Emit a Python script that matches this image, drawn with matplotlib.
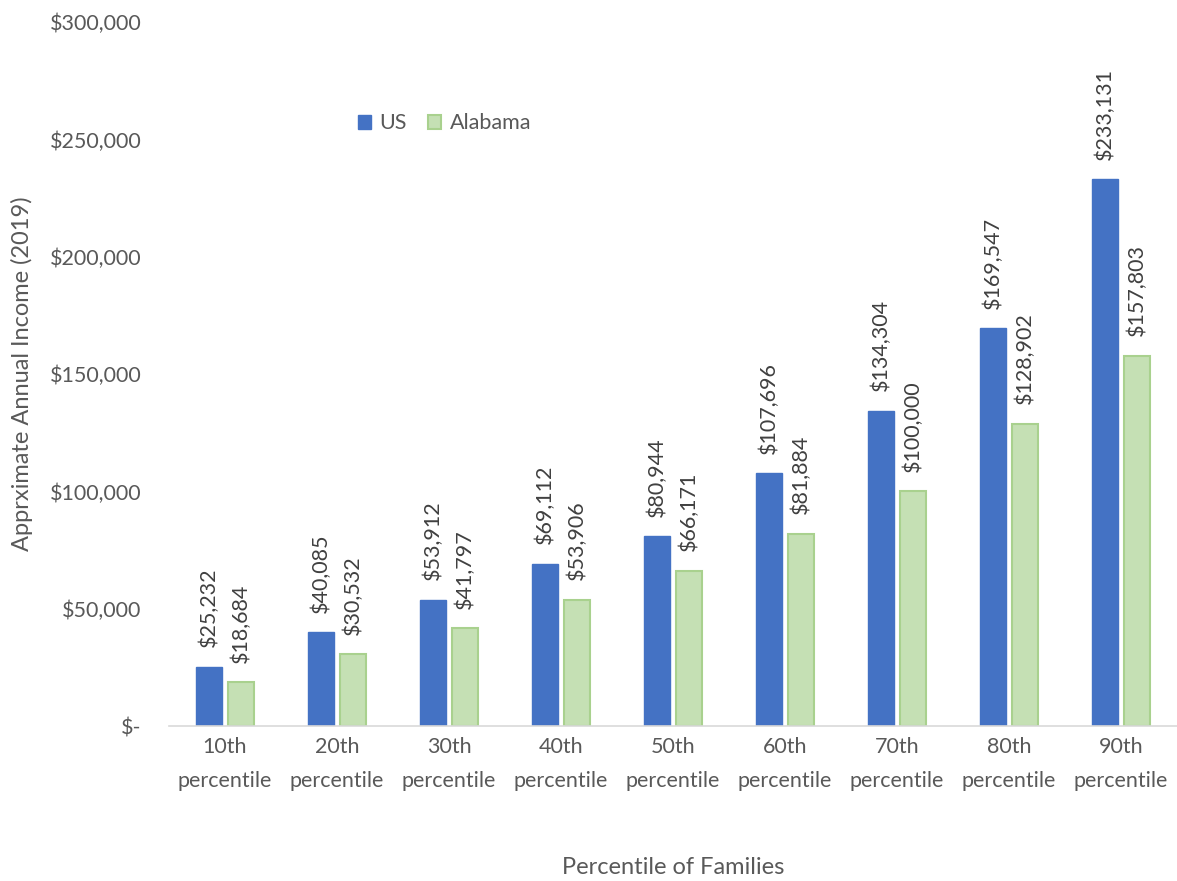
import matplotlib
matplotlib.use("Agg")
import matplotlib.pyplot as plt
import numpy as np
from matplotlib.ticker import FuncFormatter

categories = ["10th\npercentile", "20th\npercentile", "30th\npercentile", "40th\npercentile",
              "50th\npercentile", "60th\npercentile", "70th\npercentile", "80th\npercentile",
              "90th\npercentile"]
us = [25232, 40085, 53912, 69112, 80944, 107696, 134304, 169547, 233131]
alabama = [18684, 30532, 41797, 53906, 66171, 81884, 100000, 128902, 157803]
yticks = [0, 50000, 100000, 150000, 200000, 250000, 300000]

plt.rcParams['font.family'] = ['Lato', 'DejaVu Sans']
txt = '#595959'

fig = plt.figure(figsize=(11.77, 8.81), dpi=100)
ax = fig.add_axes([0.1436, 0.1759, 0.8564, 0.799])

x = np.arange(len(categories))
w = 0.228
gap = 0.06
b1 = ax.bar(x - w/2 - gap/2, us, w, color='#4472C4', edgecolor='#4472C4', label='US')
b2 = ax.bar(x + w/2 + gap/2, alabama, w, color='#C5E0B4', edgecolor='#A9D18E', linewidth=1.5,
            label='Alabama')

for bars, vals in ((b1, us), (b2, alabama)):
    for r, v in zip(bars, vals):
        ax.annotate(f"${v:,}", (r.get_x() + r.get_width()/2, v), xytext=(0, 14),
                    textcoords='offset points', rotation=90, ha='center', va='bottom',
                    fontsize=15.5, color='#404040')

ax.set_xlim(-0.5, len(categories) - 0.5)
ax.set_ylim(0, 300000)
ax.set_yticks(yticks)
ax.yaxis.set_major_formatter(FuncFormatter(lambda v, p: "$-" if v == 0 else f"${v:,.0f}"))
ax.set_xticks(x)
ax.set_xticklabels(categories, linespacing=1.85)
ax.tick_params(axis='both', length=0, labelsize=15.5, labelcolor=txt)
ax.tick_params(axis='y', pad=20)
ax.tick_params(axis='x', pad=8)
for s in ('top', 'right', 'left'):
    ax.spines[s].set_visible(False)
ax.spines['bottom'].set_color('#D9D9D9')
ax.spines['bottom'].set_linewidth(1.2)

ax.set_ylabel("Apprximate Annual Income (2019)", fontsize=17, color=txt, labelpad=12)
ax.set_xlabel("Percentile of Families", fontsize=17, color=txt, labelpad=48)

ax.legend(loc='upper left', bbox_to_anchor=(0.168, 0.898), ncol=2, frameon=False,
          fontsize=15.5, labelcolor=txt, handlelength=0.6, handleheight=0.6,
          handletextpad=0.4, columnspacing=1.0)

fig.savefig("out.png", dpi=100, facecolor='white')
